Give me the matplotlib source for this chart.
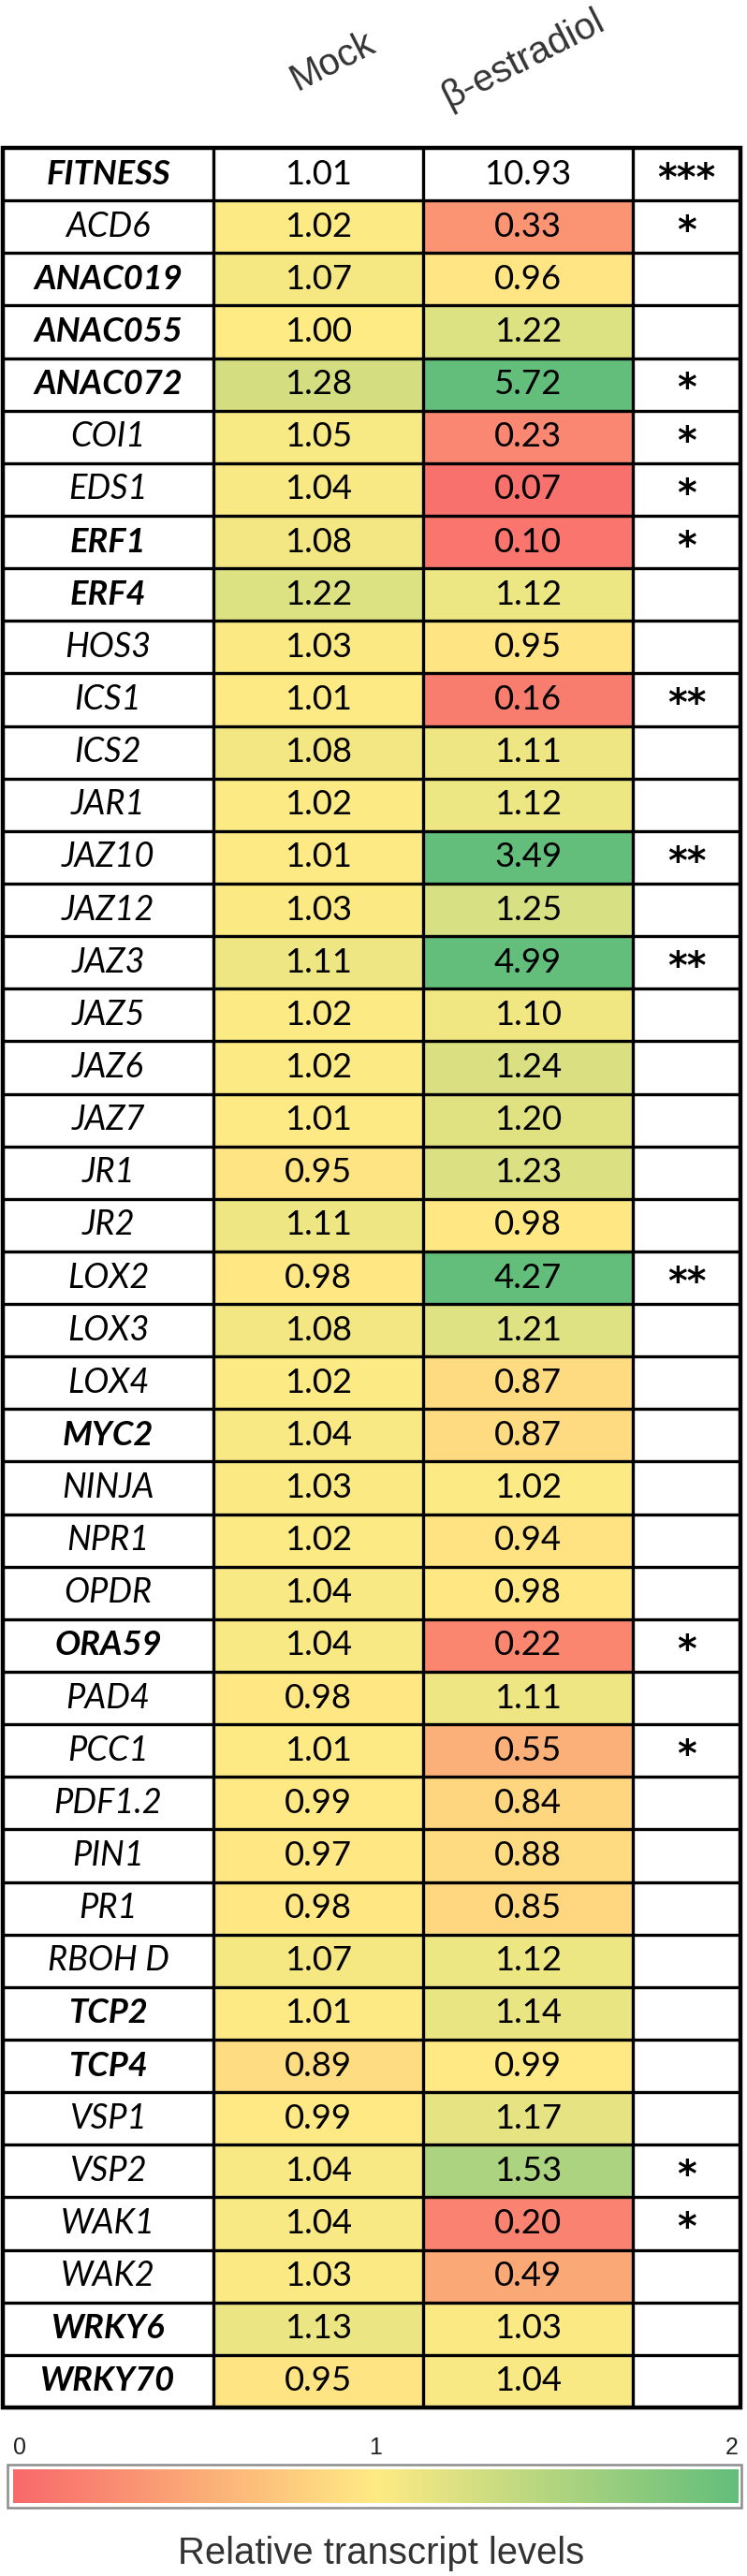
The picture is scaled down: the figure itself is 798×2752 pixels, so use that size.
import numpy as np
import matplotlib
matplotlib.use("Agg")
import matplotlib.pyplot as plt
from matplotlib.colors import LinearSegmentedColormap
from matplotlib.patches import Rectangle
import matplotlib.transforms as mtransforms

genes = ["FITNESS", "ACD6", "ANAC019", "ANAC055", "ANAC072", "COI1", "EDS1", "ERF1", "ERF4",
         "HOS3", "ICS1", "ICS2", "JAR1", "JAZ10", "JAZ12", "JAZ3", "JAZ5", "JAZ6", "JAZ7",
         "JR1", "JR2", "LOX2", "LOX3", "LOX4", "MYC2", "NINJA", "NPR1", "OPDR", "ORA59",
         "PAD4", "PCC1", "PDF1.2", "PIN1", "PR1", "RBOH D", "TCP2", "TCP4", "VSP1", "VSP2",
         "WAK1", "WAK2", "WRKY6", "WRKY70"]
mock = [1.01, 1.02, 1.07, 1.00, 1.28, 1.05, 1.04, 1.08, 1.22, 1.03, 1.01, 1.08, 1.02, 1.01,
        1.03, 1.11, 1.02, 1.02, 1.01, 0.95, 1.11, 0.98, 1.08, 1.02, 1.04, 1.03, 1.02, 1.04,
        1.04, 0.98, 1.01, 0.99, 0.97, 0.98, 1.07, 1.01, 0.89, 0.99, 1.04, 1.04, 1.03, 1.13, 0.95]
estradiol = [10.93, 0.33, 0.96, 1.22, 5.72, 0.23, 0.07, 0.10, 1.12, 0.95, 0.16, 1.11, 1.12, 3.49,
             1.25, 4.99, 1.10, 1.24, 1.20, 1.23, 0.98, 4.27, 1.21, 0.87, 0.87, 1.02, 0.94, 0.98,
             0.22, 1.11, 0.55, 0.84, 0.88, 0.85, 1.12, 1.14, 0.99, 1.17, 1.53, 0.20, 0.49, 1.03, 1.04]
significance = ["***", "*", "", "", "*", "*", "*", "*", "", "", "**", "", "", "**", "", "**", "",
                "", "", "", "", "**", "", "", "", "", "", "", "*", "", "*", "", "", "", "", "",
                "", "", "*", "*", "", "", ""]
bold_genes = {"FITNESS", "ANAC019", "ANAC055", "ANAC072", "ERF1", "ERF4", "MYC2", "ORA59",
              "TCP2", "TCP4", "WRKY6", "WRKY70"}
conditions = ["Mock", "β-estradiol"]
cbar_ticks = [0, 1, 2]
cbar_label = "Relative transcript levels"

W, H = 798, 2752
fig = plt.figure(figsize=(W / 100, H / 100), dpi=100)
renderer = fig.canvas.get_renderer()


def fr(x0, y0, x1, y1):
    return [x0 / W, 1 - y1 / H, (x1 - x0) / W, (y1 - y0) / H]


def fit_size(s, target_px, base=20.0, **kw):
    t = fig.text(0, 0, s, fontsize=base, **kw)
    w = t.get_window_extent(renderer).width
    t.remove()
    return base * target_px / w


# font sizes fitted to the widths seen in the reference, blended with cap-height sizes
val_size = 0.5 * (fit_size("10.93", 94, family="Lato") + 26.0)
gene_size = 0.5 * (0.5 * (fit_size("ANAC019", 164, family="Lato", style="italic", weight="bold")
                          + fit_size("ACD6", 92, family="Lato", style="italic")) + 25.5)
star_size = fit_size("***", 62, family="DejaVu Sans", weight="bold")
title_size = 0.5 * (fit_size(cbar_label, 452, family="Liberation Sans") + 27.5)

cmap = LinearSegmentedColormap.from_list("rdylgn_xl", ["#F8696B", "#FFEB84", "#63BE7B"])
cmap.set_bad("white")

n = len(genes)
ax = fig.add_axes(fr(3, 158, 791, 2572))
col_edges = np.cumsum([0, 225, 224, 224, 115])
row_edges = np.arange(n + 1)
vals = np.ma.masked_array(np.column_stack([mock, estradiol]), mask=np.zeros((n, 2), bool))
vals.mask[0, :] = True  # FITNESS row is uncoloured
ax.pcolormesh(col_edges[1:4], row_edges, vals, cmap=cmap, vmin=0, vmax=2)
ax.set_xlim(col_edges[0], col_edges[-1])
ax.set_ylim(n, 0)
ax.axis("off")

ax.hlines(row_edges[1:-1], col_edges[0], col_edges[-1], color="black", lw=2.4)
ax.vlines(col_edges[1:-1], 0, n, color="black", lw=2.4)
ax.add_patch(Rectangle((0, 0), col_edges[-1], n, fill=False, edgecolor="black", lw=3.2, clip_on=False))

cx = (col_edges[:-1] + col_edges[1:]) / 2
for i, g in enumerate(genes):
    y = i + 0.5
    ax.text(cx[0], y, g, ha="center", va="center", fontsize=gene_size, family="Lato", style="italic",
            weight="bold" if g in bold_genes else "normal", color="black")
    ax.text(cx[1], y, f"{mock[i]:.2f}", ha="center", va="center", fontsize=val_size, family="Lato")
    ax.text(cx[2], y, f"{estradiol[i]:.2f}", ha="center", va="center", fontsize=val_size, family="Lato")
    if significance[i]:
        ax.text(cx[3], i + 0.80, significance[i], ha="center", va="baseline", fontsize=star_size,
                family="DejaVu Sans", weight="bold")

# rotated column headers
header_pos = [(318, 97), (480, 116)]
for (px, py), lab in zip(header_pos, conditions):
    fig.text(px / W, 1 - py / H, lab, rotation=27, rotation_mode="anchor", ha="left",
             va="baseline", fontsize=29, family="Liberation Sans", color="#333333")

# colour bar
cax = fig.add_axes(fr(14, 2638, 789, 2674))
grad = np.linspace(cbar_ticks[0], cbar_ticks[-1], 512)
cax.imshow(grad[None, :], aspect="auto", cmap=cmap, vmin=cbar_ticks[0], vmax=cbar_ticks[-1],
           extent=[cbar_ticks[0], cbar_ticks[-1], 0, 1])
cax.set_xlim(cbar_ticks[0], cbar_ticks[-1])
cax.axis("off")
fig.patches.append(Rectangle((8 / W, 1 - 2679 / H), 784 / W, 46 / H, transform=fig.transFigure,
                             fill=False, edgecolor="#8c8c8c", lw=1.8))
trans = mtransforms.blended_transform_factory(cax.transData, cax.transAxes)
for t, ha in zip(cbar_ticks, ["left", "center", "right"]):
    cax.text(t, 1.64, str(t), transform=trans, ha=ha, va="center", fontsize=18,
             family="Liberation Sans", color="#222222")
fig.text(407 / W, 1 - 2728 / H, cbar_label, ha="center", va="center", fontsize=title_size,
         family="Liberation Sans", color="#333333")

fig.savefig("out.png", dpi=100, facecolor="white")
